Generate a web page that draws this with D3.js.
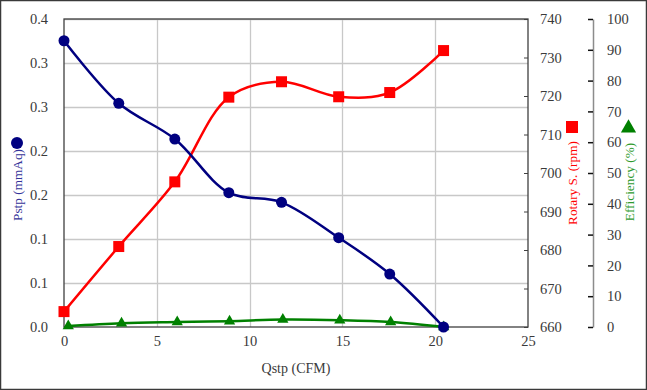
<!DOCTYPE html>
<html><head><meta charset="utf-8">
<script src="https://cdn.jsdelivr.net/npm/d3@7"></script>
<style>
html,body{margin:0;padding:0;background:#fff;}
svg{display:block;}
</style></head>
<body>
<svg id="chart" width="647" height="390"></svg>
<script>
// Data
const qstpMain = [0.0, 2.95, 5.97, 8.88, 11.72, 14.8, 17.55, 20.45];
const pstp = [0.3253, 0.2542, 0.2136, 0.1526, 0.1417, 0.1015, 0.0602, 0.0];
const rotary = [664.0, 680.9, 697.7, 719.7, 723.7, 719.8, 720.9, 731.8];
const qstpEff = [0.23, 3.1, 6.1, 8.92, 11.79, 14.86, 17.6, 20.46];
const efficiency = [0.3, 1.2, 1.6, 1.9, 2.4, 2.2, 1.6, 0.0];

const xTicks = [0, 5, 10, 15, 20, 25];
const pTicks = [0, 0.05, 0.10, 0.15, 0.20, 0.25, 0.30, 0.35];
const pTickLabels = ["0.0", "0.1", "0.1", "0.2", "0.2", "0.3", "0.3", "0.4"];
const rTicks = [660, 670, 680, 690, 700, 710, 720, 730, 740];
const eTicks = [0, 10, 20, 30, 40, 50, 60, 70, 80, 90, 100];

const FONT = "'Liberation Serif'";
const svg = d3.select("#chart");
const L = 64, R = 528, T = 19, B = 327;
const fs = 14.5, tfs = 13.3;
const txt = "#3a3a3a";

svg.append("rect").attr("x",0.5).attr("y",0.5).attr("width",646).attr("height",389)
  .attr("fill","#fff").attr("stroke","#3a3a3a").attr("stroke-width",1.5);

const x = d3.scaleLinear().domain([0,25]).range([L,R]);
const yP = d3.scaleLinear().domain([0,0.35]).range([B,T]);
const yR = d3.scaleLinear().domain([660,740]).range([B,T]);
const yE = d3.scaleLinear().domain([0,100]).range([B,T]);

// grid
const grid = svg.append("g");
grid.selectAll("line.h").data(pTicks.slice(1)).join("line")
  .attr("x1",L).attr("x2",R).attr("y1",d=>Math.round(yP(d))+0.5).attr("y2",d=>Math.round(yP(d))+0.5)
  .attr("stroke","#c8c8c8").attr("stroke-width",1.3);
grid.selectAll("line.v").data(xTicks.slice(1,-1)).join("line")
  .attr("y1",T).attr("y2",B).attr("x1",d=>Math.round(x(d))+0.5).attr("x2",d=>Math.round(x(d))+0.5)
  .attr("stroke","#c8c8c8").attr("stroke-width",1.3);

// plot border
svg.append("rect").attr("x",L).attr("y",T).attr("width",R-L).attr("height",B-T)
  .attr("fill","none").attr("stroke","#404040").attr("stroke-width",1.3);

function styleText(g){
  g.attr("font-family",null);
  g.selectAll("text").attr("font-size",fs).attr("fill",txt).style("font-family",FONT);
}

// x axis
const xAxis = d3.axisBottom(x).tickValues(xTicks).tickSize(0).tickPadding(9).tickFormat(d3.format("d"));
const gx = svg.append("g").attr("transform",`translate(0,${B})`).call(xAxis);
gx.select(".domain").remove();
styleText(gx);

// left axis
const lAxis = d3.axisLeft(yP).tickValues(pTicks).tickSize(0).tickPadding(16)
  .tickFormat((d,i)=>pTickLabels[i]);
const gl = svg.append("g").attr("transform",`translate(${L},0)`).call(lAxis);
gl.select(".domain").remove();
styleText(gl);

// rotary axis (right, ticks inward)
const rAxis = d3.axisRight(yR).tickValues(rTicks).tickSizeInner(-4).tickSizeOuter(0).tickPadding(12).tickFormat(d3.format("d"));
const gr = svg.append("g").attr("transform",`translate(${R},0)`).call(rAxis);
gr.select(".domain").remove();
gr.selectAll("line").attr("stroke","#404040");
styleText(gr);

// efficiency axis
const EX = 593;
const eAxis = d3.axisRight(yE).tickValues(eTicks).tickSizeInner(-5).tickSizeOuter(0).tickPadding(14).tickFormat(d3.format("d"));
const ge = svg.append("g").attr("transform",`translate(${EX},0)`).call(eAxis);
ge.select(".domain").attr("stroke","#8c8c8c").attr("stroke-width",1.5);
ge.selectAll(".tick line").attr("stroke","#111").attr("stroke-width",1.5);
styleText(ge);

// lines
const curve = d3.curveCatmullRom.alpha(0.5);
const lineP = d3.line().x((d,i)=>x(qstpMain[i])).y(d=>yP(d)).curve(curve);
const lineR = d3.line().x((d,i)=>x(qstpMain[i])).y(d=>yR(d)).curve(curve);
const lineE = d3.line().x((d,i)=>x(qstpEff[i])).y(d=>yE(d)).curve(curve);

svg.append("path").datum(efficiency).attr("d",lineE).attr("fill","none").attr("stroke","#008000").attr("stroke-width",2.5);
svg.append("path").datum(rotary).attr("d",lineR).attr("fill","none").attr("stroke","#ff0000").attr("stroke-width",2.5);
svg.append("path").datum(pstp).attr("d",lineP).attr("fill","none").attr("stroke","#000080").attr("stroke-width",2.5);

// markers
const tri = d3.symbol().type(d3.symbolTriangle).size(55);
svg.append("g").selectAll("path").data(efficiency).join("path")
  .attr("d",tri).attr("transform",(d,i)=>`translate(${x(qstpEff[i])},${yE(d)})`).attr("fill","#008000");
svg.append("g").selectAll("rect").data(rotary).join("rect")
  .attr("x",(d,i)=>x(qstpMain[i])-5.5).attr("y",d=>yR(d)-5.5).attr("width",11).attr("height",11).attr("fill","#ff0000");
svg.append("g").selectAll("circle").data(pstp).join("circle")
  .attr("cx",(d,i)=>x(qstpMain[i])).attr("cy",d=>yP(d)).attr("r",5.5).attr("fill","#000080");

// titles
function title(sel, size){ return sel.attr("font-size",size).style("font-family",FONT); }
title(svg.append("text").attr("x",(L+R)/2).attr("y",373).attr("text-anchor","middle")
  .attr("fill",txt).text("Qstp (CFM)"), 14);

svg.append("circle").attr("cx",17).attr("cy",143).attr("r",6).attr("fill","#000080");
title(svg.append("text").attr("transform","translate(21.5,185) rotate(-90)").attr("text-anchor","middle")
  .attr("fill","#333399").text("Pstp (mmAq)"), tfs);

svg.append("rect").attr("x",566).attr("y",121).attr("width",12).attr("height",12).attr("fill","#ff0000");
title(svg.append("text").attr("transform","translate(576.5,183) rotate(-90)").attr("text-anchor","middle")
  .attr("fill","#ff0000").text("Rotary S. (rpm)"), tfs);

svg.append("path").attr("d",d3.symbol().type(d3.symbolTriangle).size(100))
  .attr("transform","translate(628.5,128)").attr("fill","#008000");
title(svg.append("text").attr("transform","translate(633.5,182) rotate(-90)").attr("text-anchor","middle")
  .attr("fill","#2e9a2e").text("Efficiency (%)"), tfs);
</script>
</body></html>
